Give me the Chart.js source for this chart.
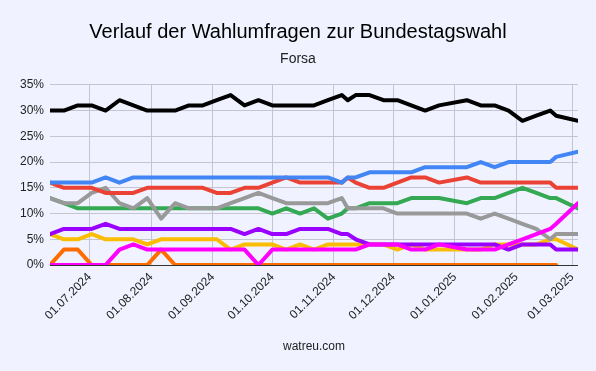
<!DOCTYPE html>
<html lang="de">
<head>
<meta charset="utf-8">
<script src="https://cdn.jsdelivr.net/npm/chart.js@4.4.1/dist/chart.umd.min.js"></script>
<style>
  html, body { margin: 0; padding: 0; background: #f0f3ff; }
  #wrap { width: 596px; height: 371px; position: relative; }
</style>
</head>
<body>
<div id="wrap"><canvas id="pollChart"></canvas></div>
<script>
// Forsa-Umfragen (Werte in %)
const pollDates = [
  '2024-06-11', '2024-06-18', '2024-06-25', '2024-07-02', '2024-07-09', '2024-07-16', '2024-07-23',
  '2024-07-30', '2024-08-06', '2024-08-13', '2024-08-20', '2024-08-27', '2024-09-03', '2024-09-10',
  '2024-09-17', '2024-09-24', '2024-10-01', '2024-10-08', '2024-10-15', '2024-10-22', '2024-10-29',
  '2024-11-05', '2024-11-08', '2024-11-12', '2024-11-19', '2024-11-26', '2024-12-03', '2024-12-10',
  '2024-12-17', '2024-12-24', '2025-01-07', '2025-01-14', '2025-01-21', '2025-01-28', '2025-02-04',
  '2025-02-11', '2025-02-18', '2025-02-21', '2025-03-04'
];
const cduCsu = [30,30,31,31,30,32,31,30,30,30,31,31,32,33,31,32,31,31,31,31,32,33,32,33,33,32,32,31,30,31,32,31,31,30,28,29,30,29,28];
const afd = [16,16,16,16,17,16,17,17,17,17,17,17,17,17,17,17,17,17,17,17,17,16,17,17,18,18,18,18,19,19,19,20,19,20,20,20,20,21,22];
const spd = [16,15,15,15,14,14,14,15,15,15,15,15,14,14,15,15,16,17,16,16,16,16,17,16,15,15,16,17,17,16,17,16,16,16,16,16,16,15,15];
const gruene = [13,12,11,11,11,11,11,11,11,11,11,11,11,11,11,11,10,11,10,11,9,10,11,11,12,12,12,13,13,13,12,13,13,14,15,14,13,13,11];
const sonstige = [13,12,12,14,15,12,11,13,9,12,11,11,11,12,13,14,13,12,12,12,12,13,11,11,11,11,10,10,10,10,10,9,10,9,8,7,5,6,6];
const bsw = [6,7,7,7,8,7,7,7,7,7,7,7,7,7,6,7,6,6,7,7,7,6,6,5,4,4,4,4,4,4,4,4,4,3,4,4,4,3,3];
const fdp = [6,5,5,6,5,5,5,4,5,5,5,5,5,3,4,4,4,3,4,3,4,4,4,4,4,4,3,4,3,3,3,3,4,4,4,4,5,5,3];
const linke = [0,0,0,0,0,3,4,3,3,3,3,3,3,3,3,0,3,3,3,3,3,3,3,3,4,4,4,3,3,4,3,3,3,4,5,6,7,8,12];
const freieWaehler = [0,3,3,0,0,0,0,0,3,0,0,0,0,0,0,0,0,0,0,0,0,0,0,0,0,0,0,0,0,0,0,0,0,0,0,0,0,0,null];

const monthTicks = ['2024-07-01', '2024-08-01', '2024-09-01', '2024-10-01', '2024-11-01',
                    '2024-12-01', '2025-01-01', '2025-02-01', '2025-03-01'];
const yTicks = [0, 5, 10, 15, 20, 25, 30, 35];

function toDay(s) {
  const p = s.split('-');
  return Date.UTC(+p[0], +p[1] - 1, +p[2]) / 86400000;
}
function fmtDay(d) {
  const dt = new Date(d * 86400000);
  const dd = String(dt.getUTCDate()).padStart(2, '0');
  const mm = String(dt.getUTCMonth() + 1).padStart(2, '0');
  return dd + '.' + mm + '.' + dt.getUTCFullYear();
}
function series(values) {
  return pollDates.map((d, i) => ({ x: toDay(d), y: values[i] }));
}

const font = "'Liberation Sans', Arial, sans-serif";
Chart.defaults.font.family = font;
Chart.defaults.color = '#222';

// erster Datensatz liegt oben
let parties = [
  { label: 'CDU/CSU', values: cduCsu, color: '#000000' },
  { label: 'Linke', values: linke, color: '#ff00ff' },
  { label: 'AfD', values: afd, color: '#4285f4' },
  { label: 'SPD', values: spd, color: '#ea4335' },
  { label: 'Sonstige', values: sonstige, color: '#999999' },
  { label: 'Grüne', values: gruene, color: '#34a853' },
  { label: 'BSW', values: bsw, color: '#9900ff' },
  { label: 'FDP', values: fdp, color: '#fbbc04' },
  { label: 'Freie Wähler', values: freieWaehler, color: '#ff6d01' }
];

let ctx = document.getElementById('pollChart').getContext('2d');

let pollChart = new Chart(ctx, {
  type: 'line',
  data: {
    datasets: parties.map(p => ({
      label: p.label,
      data: series(p.values),
      borderColor: p.color,
      backgroundColor: p.color,
      borderWidth: 4,
      pointRadius: 0,
      tension: 0,
      borderJoinStyle: 'round',
      borderCapStyle: 'round',
      fill: false
    }))
  },
  options: {
    responsive: true,
    maintainAspectRatio: false,
    animation: false,
    layout: { padding: 0 },
    plugins: {
      legend: { display: false },
      tooltip: { enabled: false },
      title: {
        display: true,
        text: 'Verlauf der Wahlumfragen zur Bundestagswahl',
        color: '#000',
        font: { size: 20, weight: 'normal', family: font },
        padding: { top: 20, bottom: 0 }
      },
      subtitle: {
        display: true,
        text: 'Forsa',
        color: '#222',
        font: { size: 14, weight: 'normal', family: font },
        padding: { top: 7, bottom: 17 }
      }
    },
    scales: {
      x: {
        type: 'linear',
        min: toDay(pollDates[0]),
        max: toDay(pollDates[pollDates.length - 1]),
        afterBuildTicks: function(scale) {
          scale.ticks = monthTicks.map(m => ({ value: toDay(m) }));
        },
        afterFit: function(scale) { scale.height = 106; },
        ticks: {
          autoSkip: false,
          minRotation: 45,
          maxRotation: 45,
          padding: 5,
          color: '#222',
          font: { size: 12 },
          callback: function(v) { return fmtDay(v); }
        },
        grid: { color: '#c4c4d2', drawTicks: false },
        border: { display: false },
        title: {
          display: true,
          text: 'watreu.com',
          color: '#222',
          font: { size: 12 },
          padding: { top: 0, bottom: 17 }
        }
      },
      y: {
        min: 0,
        max: 35,
        afterBuildTicks: function(scale) {
          scale.ticks = yTicks.map(v => ({ value: v }));
        },
        afterFit: function(scale) { scale.width = 50; },
        ticks: {
          padding: 6,
          color: '#222',
          font: { size: 12 },
          callback: function(v) { return v + '%'; }
        },
        grid: {
          drawTicks: false,
          color: function(c) { return c.tick && c.tick.value === 0 ? '#333333' : '#c4c4d2'; }
        },
        border: { display: false }
      },
      // leerer Rand rechts, damit Titel mittig bleibt
      rightGap: {
        position: 'right',
        min: 0,
        max: 35,
        afterFit: function(scale) { scale.width = 18; },
        ticks: { display: false },
        grid: { display: false, drawTicks: false },
        border: { display: false }
      }
    }
  }
});
</script>
</body>
</html>
